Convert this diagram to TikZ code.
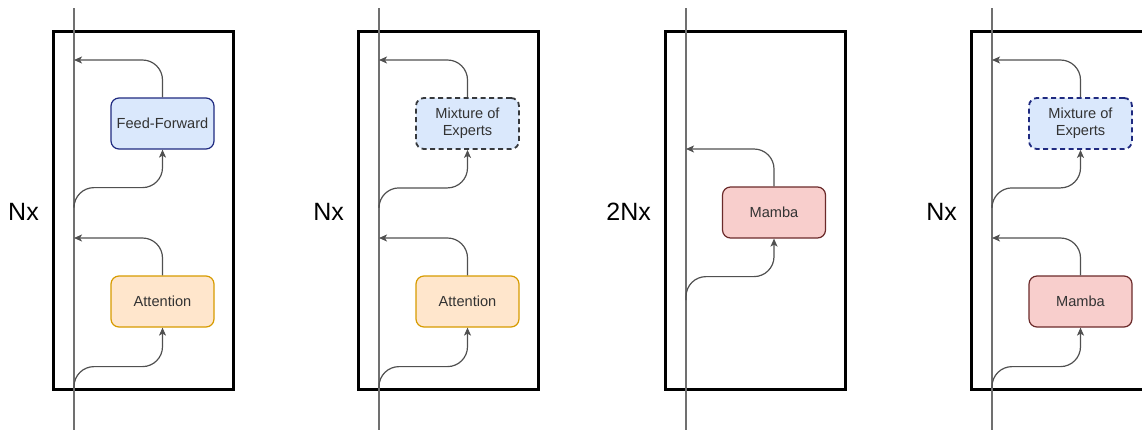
\documentclass[tikz,border=0pt]{standalone}
\usepackage{fontspec}
\setmainfont{Liberation Sans}
\usetikzlibrary{arrows.meta,positioning,calc}
\definecolor{ink}{HTML}{000000}
\definecolor{wire}{HTML}{505050}
\definecolor{resid}{HTML}{707070}
\definecolor{paperblue}{HTML}{DAE8FC}
\definecolor{navy}{HTML}{1F2A80}
\definecolor{paperamber}{HTML}{FFE6CC}
\definecolor{amber}{HTML}{D79B00}
\definecolor{paperred}{HTML}{F8CECC}
\definecolor{maroon}{HTML}{6B2A2A}
\definecolor{slate}{HTML}{36393D}
\tikzset{blk/.style={rounded corners=8pt,minimum width=103pt,minimum height=51pt,inner sep=3pt,align=center,text=black!80,font=\fontsize{14.6}{17}\selectfont,line width=1.2pt},ffn/.style={blk,fill=paperblue,draw=navy},attn/.style={blk,fill=paperamber,draw=amber},mamba/.style={blk,fill=paperred,draw=maroon},moe/.style={blk,fill=paperblue,draw=slate,dash pattern=on 5pt off 3.5pt,line width=1.8pt},moeblue/.style={moe,draw=navy},layer/.style={draw=ink,line width=3.2pt,minimum width=180pt,minimum height=358pt,anchor=north west,inner sep=0pt},resline/.style={draw=resid,line width=1.1pt},flow/.style={-{Stealth[length=8pt,width=7pt,inset=2pt]},draw=wire,line width=1.2pt,rounded corners=20pt},rep/.style={font=\fontsize{25}{29}\selectfont,anchor=east,inner sep=0pt}}

\begin{document}
\begin{tikzpicture}[x=1pt,y=-1pt]
\clip (0,0) rectangle (1142,429);
% frames, residual streams and repeat counts
\foreach \k/\xo/\rep in {1/52/Nx,2/357/Nx,3/664/2Nx,4/970/Nx}{
  \node[layer] (frame\k) at (\xo,30) {};
  \node[rep] (rep\k) at (\xo-13,212) {\rep};
  \coordinate (top\k) at (\xo+22,8);
  \coordinate (bot\k) at (\xo+22,440);
  \draw[resline] (top\k) -- (bot\k);
}
% two sublayers per block
\foreach \k/\xo/\ust/\utxt/\lst/\ltxt in {1/52/ffn/Feed-Forward/attn/Attention,2/357/moe/{Mixture of\\Experts}/attn/Attention,4/970/moeblue/{Mixture of\\Experts}/mamba/Mamba}{
  \node[\ust] (up\k) at (\xo+110.5,123.5) {\utxt};
  \node[\lst] (lo\k) at (\xo+110.5,301.5) {\ltxt};
  \coordinate (lin\k) at (\xo+22,388);
  \coordinate (lout\k) at (\xo+22,238);
  \coordinate (uin\k) at (\xo+22,205);
  \coordinate (uout\k) at (\xo+22,60);
  \draw[flow] (lin\k) |- ([yshift=-39pt]lo\k.south) -- (lo\k.south);
  \draw[flow] (lo\k.north) |- (lout\k);
  \draw[flow] (uin\k) |- ([yshift=-38pt]up\k.south) -- (up\k.south);
  \draw[flow] (up\k.north) |- (uout\k);
}
% single Mamba block
\node[mamba] (mid3) at (774,212.5) {Mamba};
\coordinate (min3) at (686,300);
\coordinate (mout3) at (686,149);
\draw[flow] (min3) |- ([yshift=-38pt]mid3.south) -- (mid3.south);
\draw[flow] (mid3.north) |- (mout3);
\end{tikzpicture}
\end{document}
